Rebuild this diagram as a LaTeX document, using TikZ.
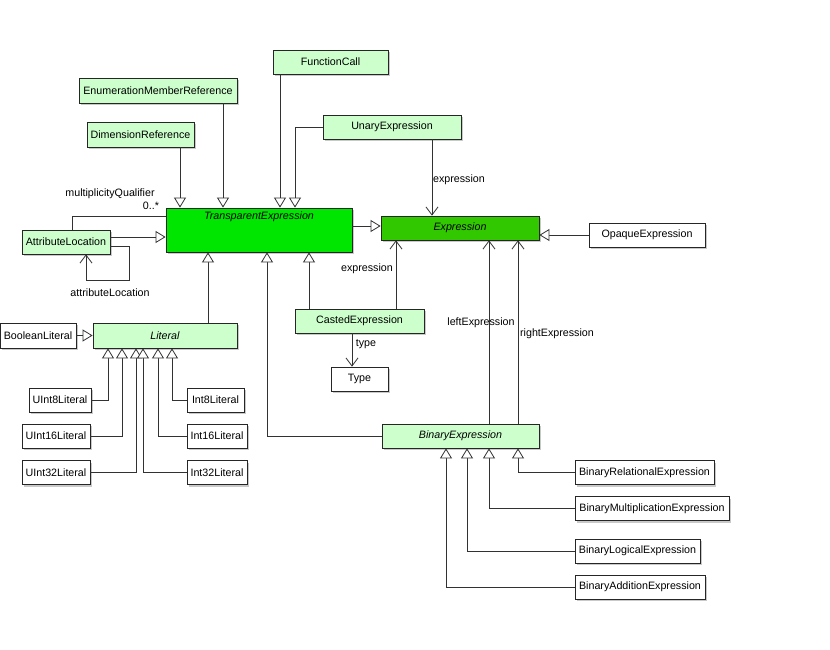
\documentclass[tikz,border=0pt]{standalone}
\usepackage{fontspec}
\setmainfont{Liberation Sans}
\usetikzlibrary{arrows.meta,shadows}
\definecolor{lgreen}{RGB}{204,255,204}
\definecolor{tgreen}{RGB}{0,230,0}
\definecolor{egreen}{RGB}{50,200,0}
\definecolor{ln}{RGB}{50,50,50}
\begin{document}
\begin{tikzpicture}[x=1pt,y=-1pt,
  font=\fontsize{10.7}{13}\selectfont,
  cls/.style={draw=black!85,line width=0.8pt,inner sep=0pt,
    drop shadow={shadow xshift=2pt,shadow yshift=-2pt,fill=black!35,opacity=0.6}},
  gcls/.style={cls,fill=lgreen},
  wcls/.style={cls,fill=white},
  conn/.style={draw=ln,line width=0.8pt},
  gen/.style={conn,-{Triangle[open,length=10pt,width=12pt,fill=white]}},
  assoc/.style={conn,-{Straight Barb[length=8pt,width=12pt]}},
  lbl/.style={inner sep=1pt}]
\useasboundingbox[fill=white] (0,0) rectangle (830,650);

% classes
\node[gcls,minimum width=115pt,minimum height=24pt] (FC) at (330.5,62) {FunctionCall};
\node[gcls,minimum width=158pt,minimum height=25pt] (EMR) at (158,90.5) {EnumerationMemberReference};
\node[gcls,minimum width=107pt,minimum height=25pt] (DR) at (140.5,134.5) {DimensionReference};
\node[gcls,minimum width=138pt,minimum height=24pt] (UE) at (392,127) {UnaryExpression};
\node[cls,fill=tgreen,minimum width=186pt,minimum height=44pt,
  label={[anchor=north,yshift=-4pt,inner sep=0pt]north:\textit{TransparentExpression}}] (TE) at (259,230) {};
\node[cls,fill=egreen,minimum width=158pt,minimum height=24pt] (EX) at (460,228) {\textit{Expression}};
\node[wcls,minimum width=116pt,minimum height=24pt] (OE) at (647,235) {OpaqueExpression};
\node[gcls,minimum width=88pt,minimum height=24pt] (AL) at (66,242) {AttributeLocation};
\node[gcls,minimum width=129pt,minimum height=24pt] (CE) at (359.5,321) {CastedExpression};
\node[wcls,minimum width=57pt,minimum height=24pt] (TY) at (359.5,379) {Type};
\node[gcls,minimum width=144pt,minimum height=25pt] (LIT) at (165,335.5) {\textit{Literal}};
\node[wcls,minimum width=76pt,minimum height=25pt] (BL) at (38,335.5) {BooleanLiteral};
\node[wcls,minimum width=62pt,minimum height=24pt] (U8) at (60,400) {UInt8Literal};
\node[wcls,minimum width=68pt,minimum height=24pt] (U16) at (56,436) {UInt16Literal};
\node[wcls,minimum width=68pt,minimum height=24pt] (U32) at (56,472.5) {UInt32Literal};
\node[wcls,minimum width=57pt,minimum height=24pt] (I8) at (215.5,400) {Int8Literal};
\node[wcls,minimum width=60pt,minimum height=24pt] (I16) at (217,436) {Int16Literal};
\node[wcls,minimum width=60pt,minimum height=24pt] (I32) at (217,472.5) {Int32Literal};
\node[gcls,minimum width=157pt,minimum height=24pt] (BE) at (460.5,436) {\textit{BinaryExpression}};
\node[wcls,minimum width=139pt,minimum height=24pt] (BREL) at (644.5,472.5) {BinaryRelationalExpression};
\node[wcls,minimum width=154pt,minimum height=24pt] (BMUL) at (652,508.5) {BinaryMultiplicationExpression};
\node[wcls,minimum width=125pt,minimum height=24pt] (BLOG) at (637.5,551) {BinaryLogicalExpression};
\node[wcls,minimum width=130pt,minimum height=24pt] (BADD) at (640,587) {BinaryAdditionExpression};

% generalisations into TransparentExpression
\draw[gen] (DR.south -| 180,0) -- (TE.north -| 180,0);
\draw[gen] (EMR.south -| 223,0) -- (TE.north -| 223,0);
\draw[gen] (FC.south -| 280,0) -- (TE.north -| 280,0);
\draw[gen] (UE.west) -| (TE.north -| 295,0);
\draw[gen] (AL.east |- 0,237) -- (TE.west |- 0,237);
\draw[gen] (LIT.north -| 208,0) -- (TE.south -| 208,0);
\draw[gen] (BE.west) -| (TE.south -| 267,0);
\draw[gen] (CE.north -| 309,0) -- (TE.south -| 309,0);

% into Expression
\draw[gen] (TE.east |- 0,226) -- (EX.west |- 0,226);
\draw[gen] (OE.west) -- (EX.east |- OE.west);
\draw[assoc] (UE.south -| 432,0) -- (EX.north -| 432,0);
\draw[assoc] (CE.north -| 396,0) -- (EX.south -| 396,0);
\draw[assoc] (BE.north -| 489,0) -- (EX.south -| 489,0);
\draw[assoc] (BE.north -| 518,0) -- (EX.south -| 518,0);
\draw[assoc] (CE.south -| 352,0) -- (TY.north -| 352,0);
\node[lbl] (l1) at (459,180) {expression};
\node[lbl] (l2) at (367,269) {expression};
\node[lbl] (l3) at (481,323) {leftExpression};
\node[lbl] (l4) at (557,334) {rightExpression};
\node[lbl] (l5) at (366,344) {type};

% AttributeLocation
\draw[conn] (AL.north -| 72,0) |- (TE.west |- 0,216);
\node[lbl] (mq) at (110,194) {multiplicityQualifier};
\node[lbl] (mult) at (151,206) {0..*};
\draw[assoc] (AL.east |- 0,246) -| ++(19,34) -| (AL.south -| 86,0);
\node[lbl] (al) at (110,293) {attributeLocation};

% Literal subclasses
\draw[gen] (BL.east) -- (LIT.west);
\draw[gen] (U8.east) -| (LIT.south -| 108,0);
\draw[gen] (U16.east) -| (LIT.south -| 122,0);
\draw[gen] (U32.east) -| (LIT.south -| 136,0);
\draw[gen] (I32.west) -| (LIT.south -| 143,0);
\draw[gen] (I16.west) -| (LIT.south -| 158,0);
\draw[gen] (I8.west) -| (LIT.south -| 172,0);

% BinaryExpression subclasses
\draw[gen] (BREL.west) -| (BE.south -| 518,0);
\draw[gen] (BMUL.west) -| (BE.south -| 489,0);
\draw[gen] (BLOG.west) -| (BE.south -| 467,0);
\draw[gen] (BADD.west) -| (BE.south -| 446,0);
\end{tikzpicture}
\end{document}
